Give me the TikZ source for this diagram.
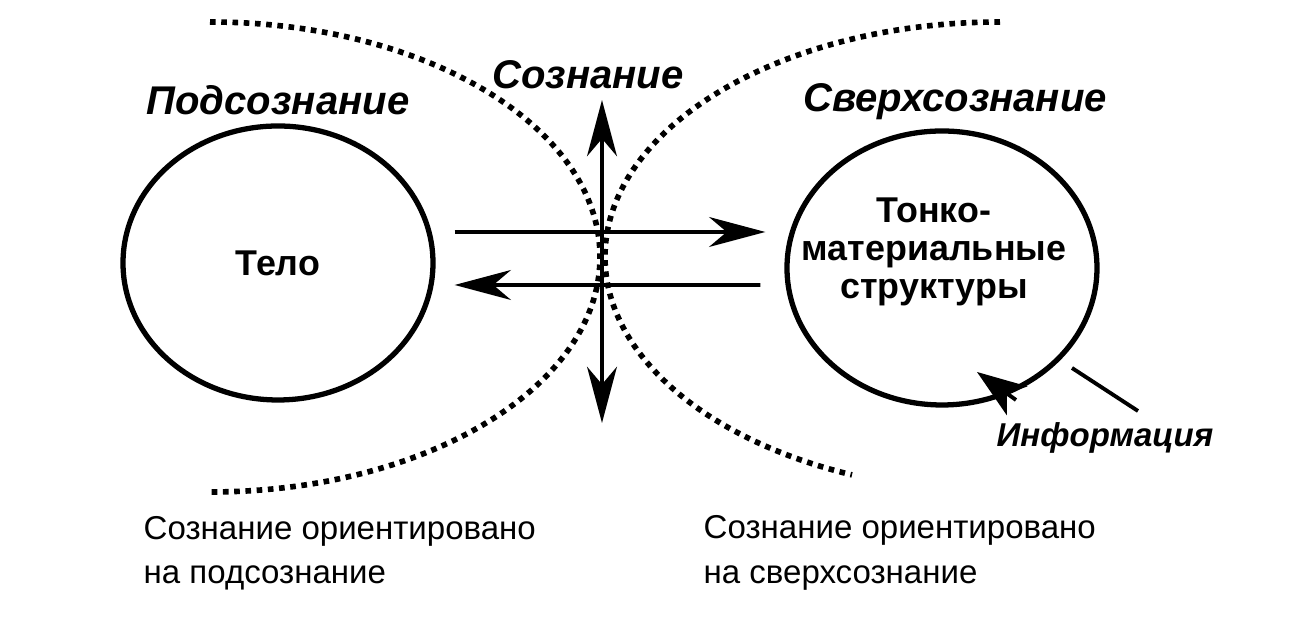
\documentclass[tikz,border=0pt]{standalone}
\usepackage{fontspec}
\setmainfont{Liberation Sans}
\usetikzlibrary{arrows.meta,shapes.geometric}

\begin{document}
\begin{tikzpicture}[
	>={Stealth[length=16pt, width=8.5pt, inset=5pt]},
	oval/.style={draw, ellipse, line width=1.5pt, inner sep=0pt, minimum width=3.1cm, minimum height=2.74cm},
	dots/.style={line width=1.6pt, dash pattern=on 1.6pt off 1.6pt},
	arr/.style={line width=1.1pt, ->},
	head/.style={font=\fontsize{11.4}{13}\selectfont\bfseries\itshape},
	inner/.style={font=\fontsize{10.2}{10.9}\selectfont\bfseries, align=center},
	note/.style={font=\fontsize{9.4}{12.6}\selectfont, align=left, anchor=west, inner sep=0pt}
]
\useasboundingbox (0,0) rectangle (13.15,6.27);

\draw[dots] (2.10,6.05) arc[start angle=90, end angle=-90, x radius=3.90, y radius=2.35];
\draw[dots] (10.00,6.05) arc[start angle=90, end angle=248, x radius=3.95, y radius=2.35];

\node[oval, inner] (body) at (2.78,3.64) {Тело};
\node[oval] (fine) at (9.42,3.59) {};
\node[inner] (fineText) at (9.34,3.75) {Тонко-\\материальные\\структуры};

\node[head] (sub) at (2.78,5.27) {Подсознание};
\node[head] (con) at (5.88,5.52) {Сознание};
\node[head] (sup) at (9.55,5.25) {Сверхсознание};
\node[head, font=\fontsize{9.4}{11}\selectfont\bfseries\itshape] (info) at (11.05,1.89) {Информация};

\draw[arr] ([shift={(0.19,0.31)}]body.east) -- ([shift={(-0.19,0.36)}]fine.west);
\draw[arr] ([shift={(-0.24,-0.17)}]fine.west) -- ([shift={(0.19,-0.22)}]body.east);

\coordinate (up) at (6.02,5.27);
\coordinate (down) at (6.02,2.04);
\draw[arr, <->] (down) -- (up);

\coordinate (inA) at (10.16,2.27);
\coordinate (inB) at (9.77,2.55);
\draw[line width=1.1pt, -{Stealth[length=14pt, width=10pt, inset=3.5pt]}] (inA) -- (inB);

\coordinate (leadA) at (10.72,2.59);
\coordinate (leadB) at (11.38,2.16);
\draw[line width=1.1pt] (leadA) -- (leadB);

\node[note] (leftNote) at (1.43,0.74) {Сознание ориентировано\\на подсознание};
\node[note] (rightNote) at (7.03,0.74) {Сознание ориентировано\\на сверхсознание};

\end{tikzpicture}
\end{document}
